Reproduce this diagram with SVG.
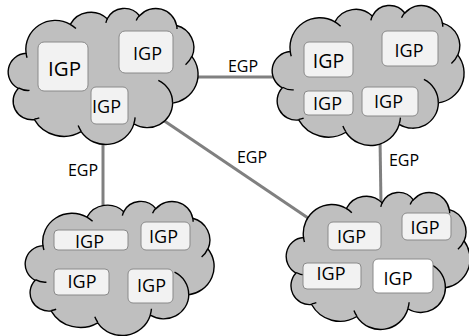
<svg xmlns="http://www.w3.org/2000/svg" xmlns:xlink="http://www.w3.org/1999/xlink" width="469" height="336" viewBox="0 0 469 336">
  <style>
    .cloud { fill: #bfbfbf; stroke: #000; stroke-width: 1.4; vector-effect: non-scaling-stroke; }
    .cloud-inner { fill: none; stroke: #000; stroke-width: 1.4; vector-effect: non-scaling-stroke; }
    .box { fill: #f2f2f2; stroke: #8a8a8a; stroke-width: 1; }
    .box.white { fill: #ffffff; }
    .link { stroke: #808080; stroke-width: 3; fill: none; }
    text { font-family: "Open Sans", "Noto Sans", sans-serif; fill: #000; }
    .igp { font-size: 18px; text-anchor: middle; }
    .igp.mid { font-size: 19.5px; }
    .igp.big { font-size: 20.5px; }
    .egp { font-size: 16px; text-anchor: middle; }
  </style>
  <defs>
    <!-- cloud outline in a 432 x 432 unit box -->
    <g id="cloudShape">
      <path class="cloud" d="M39,143.7 A67.53,91.9 0 0 1 140.05,52.02 A53.33,72.67 0 0 1 224.57,34.3 A43.65,59.45 0 0 1 298.34,24.79 A48.57,65.95 0 0 1 383.18,55.75 A53.33,72.73 0 0 1 418.19,154.59 A67.75,92.2 0 0 1 374.05,302.03 A57.85,78.67 0 0 1 285.57,368.14 A67.52,92.15 0 0 1 164.82,392.66 A77.2,105.43 0 0 1 58.06,354.71 A43.6,59.18 0 0 1 21.13,255.52 A43.45,59.45 0 0 1 39,143.7 Z"/>
      <path class="cloud-inner" d="M46.93,261.77 A43.45,59.45 0 0 1 21.59,253.79 M69.28,348.99 A43.6,59.18 0 0 1 58.2,352.8 M164.78,390.9 A67.52,92.15 0 0 1 158.09,373.48 M288.27,347.51 A67.52,92.15 0 0 1 285.6,366.6 M341.29,229.54 A57.85,78.67 0 0 1 373.81,300.9 M417.98,153.54 A53.33,72.73 0 0 1 403.49,180.31 M383.24,54.26 A48.57,65.95 0 0 1 384,66.9 M290.78,39.52 A48.57,65.95 0 0 1 298.2,23.39 M221.41,47.2 A43.65,59.45 0 0 1 225,33.3 M140,51.92 A67.53,91.9 0 0 1 152.99,65.4 M41.27,157.89 A67.53,91.9 0 0 1 39,143.71"/>
    </g>
  </defs>

  <!-- EGP links between autonomous systems -->
  <g id="connectors">
    <line class="link" x1="190" y1="77" x2="282" y2="77"/>
    <line class="link" x1="103" y1="138" x2="103" y2="210"/>
    <line class="link" x1="380" y1="138" x2="381" y2="205"/>
    <line class="link" x1="160" y1="118" x2="314" y2="222"/>
    <text class="egp" x="243" y="72">EGP</text>
    <text class="egp" x="83" y="176">EGP</text>
    <text class="egp" x="404" y="166">EGP</text>
    <text class="egp" x="252" y="163">EGP</text>
  </g>

  <g id="as-top-left">
    <use xlink:href="#cloudShape" transform="translate(9,8) scale(0.4375,0.3148)"/>
    <rect class="box" x="38" y="42" width="50" height="49" rx="6"/>
    <text class="igp big" x="64.5" y="75.5">IGP</text>
    <rect class="box" x="119" y="31" width="54" height="42" rx="6"/>
    <text class="igp" x="147.5" y="60">IGP</text>
    <rect class="box" x="91" y="87" width="37" height="37" rx="5"/>
    <text class="igp" x="106.5" y="112.5">IGP</text>
  </g>

  <g id="as-top-right">
    <use xlink:href="#cloudShape" transform="translate(273,5) scale(0.4421,0.3241)"/>
    <rect class="box" x="304" y="42" width="49" height="35" rx="5"/>
    <text class="igp mid" x="328.5" y="68">IGP</text>
    <rect class="box" x="382" y="31" width="56" height="35" rx="5"/>
    <text class="igp" x="409" y="57">IGP</text>
    <rect class="box" x="304" y="91" width="49" height="24" rx="4"/>
    <text class="igp" x="327.5" y="110">IGP</text>
    <rect class="box" x="362" y="87" width="56" height="29" rx="5"/>
    <text class="igp" x="388.5" y="107.5">IGP</text>
  </g>

  <g id="as-bottom-left">
    <use xlink:href="#cloudShape" transform="translate(26,201) scale(0.4352,0.3102)"/>
    <rect class="box" x="54" y="230" width="74" height="20" rx="4"/>
    <text class="igp" x="89.5" y="247.5">IGP</text>
    <rect class="box" x="141" y="222" width="49" height="28" rx="5"/>
    <text class="igp" x="163.5" y="242.5">IGP</text>
    <rect class="box" x="54" y="269" width="55" height="26" rx="4"/>
    <text class="igp" x="82" y="287.5">IGP</text>
    <rect class="box" x="128" y="269" width="45" height="34" rx="5"/>
    <text class="igp" x="151.5" y="291.5">IGP</text>
  </g>

  <g id="as-bottom-right">
    <use xlink:href="#cloudShape" transform="translate(287,192) scale(0.4236,0.3171)"/>
    <rect class="box" x="328" y="222" width="53" height="28" rx="5"/>
    <text class="igp" x="351.5" y="243">IGP</text>
    <rect class="box" x="402" y="213" width="49" height="27" rx="5"/>
    <text class="igp" x="425" y="234">IGP</text>
    <rect class="box" x="303" y="263" width="58" height="26" rx="4"/>
    <text class="igp" x="331" y="280">IGP</text>
    <rect class="box white" x="373" y="259" width="60" height="34" rx="5"/>
    <text class="igp" x="398" y="284.5">IGP</text>
  </g>
</svg>
